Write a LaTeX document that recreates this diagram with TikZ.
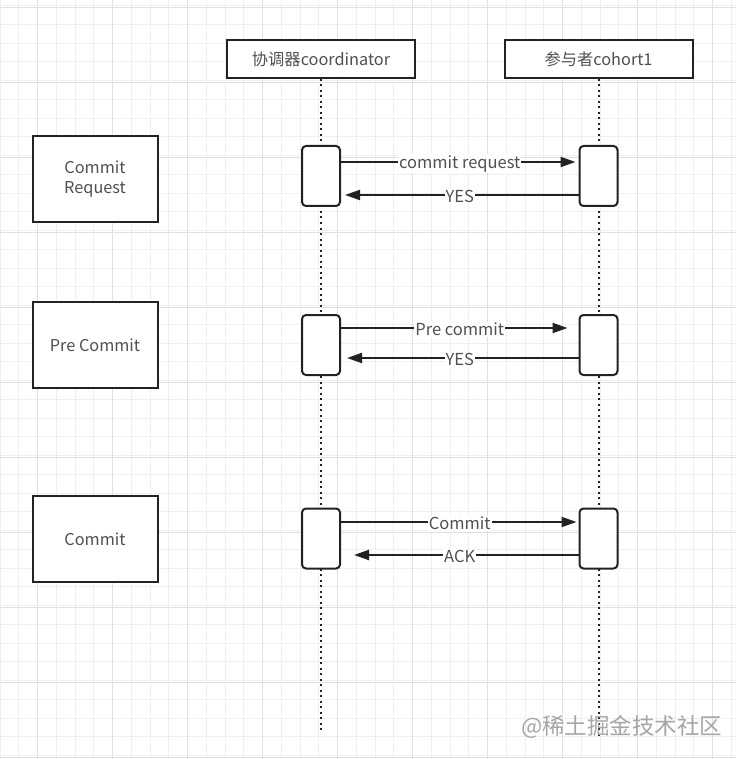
\documentclass[tikz,border=0pt]{standalone}
\usepackage{fontspec}
\setmainfont{Noto Sans CJK SC}
\usetikzlibrary{arrows.meta,calc}
\definecolor{gridminor}{HTML}{EFEFEF}
\definecolor{gridmajor}{HTML}{E0E0E0}
\definecolor{ink}{HTML}{222222}
\definecolor{txt}{HTML}{505050}
\tikzset{
  header/.style={draw=ink,line width=2pt,fill=white,minimum width=188pt,minimum height=38pt,inner sep=0pt,text=txt,font=\fontsize{16.3}{19}\selectfont},
  phase/.style={draw=ink,line width=2pt,fill=white,minimum width=125pt,minimum height=86pt,inner sep=0pt,text=txt,align=center,font=\fontsize{16.3}{20}\selectfont},
  actbox/.style={draw=ink,line width=2pt,fill=white,rounded corners=4pt,minimum width=38pt,minimum height=60pt,inner sep=0pt},
  lifeline/.style={draw=ink,line width=2pt,dash pattern=on 2pt off 3.5pt},
  msg/.style={draw=ink,line width=2pt,-{Triangle[length=15pt,width=10pt]}},
  msglabel/.style={fill=white,inner sep=1pt,yshift=-1.5pt,text=txt,font=\fontsize{16.5}{19}\selectfont},
}
\begin{document}
\begin{tikzpicture}[x=1pt,y=-1pt]
\useasboundingbox (0,0) rectangle (736,759);
\fill[white] (0,0) rectangle (736,759);
% grid
\foreach \i in {0,...,39} {
  \draw[gridminor,line width=0.8pt] ({\i*18.75},0) -- ({\i*18.75},759);
}
\foreach \j in {0,...,40} {
  \draw[gridminor,line width=0.8pt] (0,{5.5+\j*18.75}) -- (736,{5.5+\j*18.75});
}
\foreach \i in {0,...,9} {
  \draw[gridmajor,line width=0.9pt] ({37.5+\i*75},0) -- ({37.5+\i*75},759);
}
\foreach \j in {0,...,10} {
  \draw[gridmajor,line width=0.9pt] (0,{7+\j*75}) -- (736,{7+\j*75});
}
% headers
\node[header] (coord) at (321,59) {协调器coordinator};
\node[header] (cohort) at (598.5,59) {参与者cohort1};
\coordinate (coordend) at (321,730);
\coordinate (cohortend) at (598.5,736);
\draw[lifeline] (coord.south) -- (coordend);
\draw[lifeline] (cohort.south) -- (cohortend);
% phase boxes
\node[phase] (p1) at (95,179) {\raisebox{-2.5pt}{\parbox{100pt}{\centering Commit\\Request}}};
\node[phase] (p2) at (95,345) {Pre Commit};
\node[phase] (p3) at (95,539) {Commit};
% activation boxes
\node[actbox] (a1) at (321,176) {};
\node[actbox] (b1) at (598.5,176) {};
\node[actbox] (a2) at (321,345) {};
\node[actbox] (b2) at (598.5,345) {};
\node[actbox] (a3) at (321,538.5) {};
\node[actbox] (b3) at (598.5,538.5) {};
% messages
\draw[msg,shorten >=3pt] ([yshift=14pt]a1.east) -- node[msglabel]{commit request} ([yshift=14pt]b1.west);
\draw[msg,shorten >=4pt] ([yshift=-19pt]b1.west) -- node[msglabel]{YES} ([yshift=-19pt]a1.east);
\draw[msg,shorten >=11pt] ([yshift=17pt]a2.east) -- node[msglabel]{Pre commit} ([yshift=17pt]b2.west);
\draw[msg,shorten >=6pt] ([yshift=-13pt]b2.west) -- node[msglabel]{YES} ([yshift=-13pt]a2.east);
\draw[msg,shorten >=2pt] ([yshift=16.5pt]a3.east) -- node[msglabel]{Commit} ([yshift=16.5pt]b3.west);
\draw[msg,shorten >=13pt] ([yshift=-16.5pt]b3.west) -- node[msglabel]{ACK} ([yshift=-16.5pt]a3.east);
% watermark
\node[text=black!35,font=\fontsize{22.5}{26}\selectfont,anchor=east] (wm) at (726,727) {@稀土掘金技术社区};
\end{tikzpicture}
\end{document}
